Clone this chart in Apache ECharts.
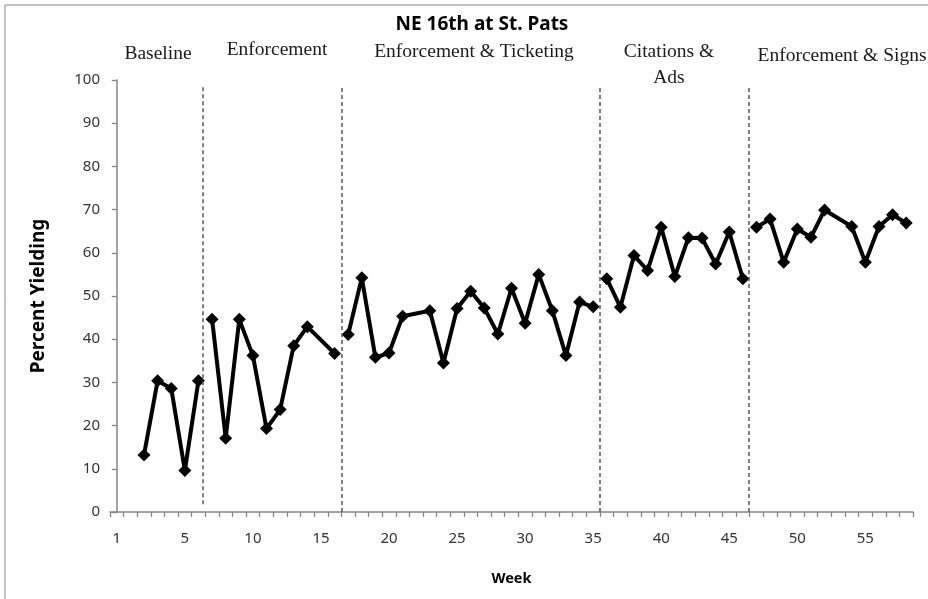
<!doctype html>
<html>
    <head>
        <meta charset="utf-8">
        <style>
            html, body { margin: 0; padding: 0; background: #fff; }
            #main { width: 928px; height: 599px; }
        </style>
    </head>
    <body>
        <div id="main"></div>
        <script src="https://cdn.jsdelivr.net/npm/echarts@6/dist/echarts.min.js"></script>
        <script>
            // week slots on the axis (0..58), labels shown only at a few of them
            var tickIdx = [0, 5, 10, 15, 20, 25, 30, 35, 40, 45, 50, 55];
            var tickLabels = ['1', '5', '10', '15', '20', '25', '30', '35', '40', '45', '50', '55'];
            var slotCount = 59;

            // phases: slot positions and percent yielding
            var baseX = [2, 3, 4, 5, 6];
            var baseY = [13.2, 30.4, 28.6, 9.6, 30.4];
            var enfX = [7, 8, 9, 10, 11, 12, 13, 14, 16];
            var enfY = [44.6, 17.1, 44.6, 36.2, 19.3, 23.7, 38.5, 42.9, 36.7];
            var tickX = [17, 18, 19, 20, 21, 23, 24, 25, 26, 27, 28, 29, 30, 31, 32, 33, 34, 35];
            var tickY = [41.1, 54.2, 35.8, 36.8, 45.3, 46.6, 34.5, 47.1, 51.1, 47.2, 41.2, 51.8, 43.7, 55.0, 46.6, 36.2, 48.6, 47.5];
            var citeX = [36, 37, 38, 39, 40, 41, 42, 43, 44, 45, 46];
            var citeY = [54.0, 47.4, 59.4, 55.9, 65.9, 54.5, 63.5, 63.4, 57.4, 64.8, 54.0];
            var signX = [47, 48, 49, 50, 51, 52, 54, 55, 56, 57, 58];
            var signY = [65.9, 67.8, 57.8, 65.5, 63.6, 69.9, 66.1, 57.8, 66.1, 68.8, 66.9];

            // phase change lines: position, bottom, top
            var dividerX = [6.3, 16.5, 35.5, 46.45];
            var dividerLow = [1.8, 0, 0, 0];
            var dividerHigh = [98.4, 98.4, 98.4, 98.4];

            var categories = [];
            for (var i = 0; i < slotCount; i++) {
                var k = tickIdx.indexOf(i);
                categories.push(k >= 0 ? tickLabels[k] : '');
            }

            function pairs(xs, ys) {
                return xs.map(function (x, i) { return [x, ys[i]]; });
            }

            function phase(xs, ys) {
                return {
                    type: 'line',
                    xAxisIndex: 1,
                    data: pairs(xs, ys),
                    symbol: 'diamond',
                    symbolSize: 13,
                    lineStyle: { color: '#000', width: 4 },
                    itemStyle: { color: '#000' },
                    silent: true,
                    animation: false
                };
            }

            var series = [
                phase(baseX, baseY),
                phase(enfX, enfY),
                phase(tickX, tickY),
                phase(citeX, citeY),
                phase(signX, signY)
            ];
            series[0].markLine = {
                silent: true,
                symbol: 'none',
                label: { show: false },
                lineStyle: { color: '#555', type: [4, 3], width: 1.5 },
                data: dividerX.map(function (x, i) {
                    return [{ coord: [x, dividerLow[i]] }, { coord: [x, dividerHigh[i]] }];
                })
            };

            var serif = '"Liberation Serif", "Times New Roman", serif';
            function phaseText(txt, x, y) {
                return {
                    type: 'text', x: x, y: y,
                    style: {
                        text: txt, fill: '#1a1a1a', font: '19.5px ' + serif,
                        textAlign: 'center', textVerticalAlign: 'middle'
                    }
                };
            }

            var tickStyle = { color: '#868686', width: 1.3 };

            var chart = echarts.init(document.getElementById('main'));
            chart.setOption({
                animation: false,
                grid: { left: 110, right: 15, top: 80, bottom: 87 },
                xAxis: [{
                    type: 'category',
                    data: categories,
                    boundaryGap: true,
                    name: 'Week',
                    nameLocation: 'middle',
                    nameGap: 59,
                    nameTextStyle: { fontFamily: 'Noto Sans', fontWeight: 'bold', fontSize: 14.5, color: '#000' },
                    axisLine: { lineStyle: { color: '#868686', width: 1.5 } },
                    axisTick: { show: true, interval: 0, length: 5, lineStyle: tickStyle },
                    axisLabel: {
                        interval: function (idx) { return tickIdx.indexOf(idx) >= 0; },
                        margin: 19,
                        fontFamily: 'Noto Sans', fontSize: 15, color: '#333'
                    },
                    splitLine: { show: false }
                }, {
                    type: 'value',
                    min: -0.5,
                    max: slotCount - 0.5,
                    show: false
                }],
                yAxis: {
                    type: 'value',
                    min: 0, max: 100, interval: 10,
                    name: 'Percent Yielding',
                    nameLocation: 'middle',
                    nameRotate: 90,
                    nameGap: 62,
                    nameTextStyle: { fontFamily: 'Noto Sans', fontWeight: 'bold', fontSize: 19, color: '#000' },
                    axisLine: { show: true, lineStyle: { color: '#868686', width: 1.5 } },
                    axisTick: { show: true, length: 5, lineStyle: tickStyle },
                    axisLabel: { margin: 10, fontFamily: 'Noto Sans', fontSize: 15, color: '#333' },
                    splitLine: { show: false }
                },
                series: series,
                graphic: [
                    {
                        type: 'rect', shape: { x: 5, y: 5, width: 960, height: 640 },
                        style: { fill: 'none', stroke: '#888', lineWidth: 1 }, silent: true
                    },
                    {
                        type: 'text', x: 482, y: 25,
                        style: {
                            text: 'NE 16th at St. Pats', fill: '#000',
                            font: 'bold 19px "Noto Sans"',
                            textAlign: 'center', textVerticalAlign: 'middle'
                        }
                    },
                    phaseText('Baseline', 158, 54),
                    phaseText('Enforcement', 277, 50),
                    phaseText('Enforcement & Ticketing', 474, 52),
                    phaseText('Citations &', 669, 52),
                    phaseText('Ads', 669, 78),
                    phaseText('Enforcement & Signs', 842, 56)
                ]
            });

            window.onresize = chart.resize;
        </script>
    </body>
</html>
